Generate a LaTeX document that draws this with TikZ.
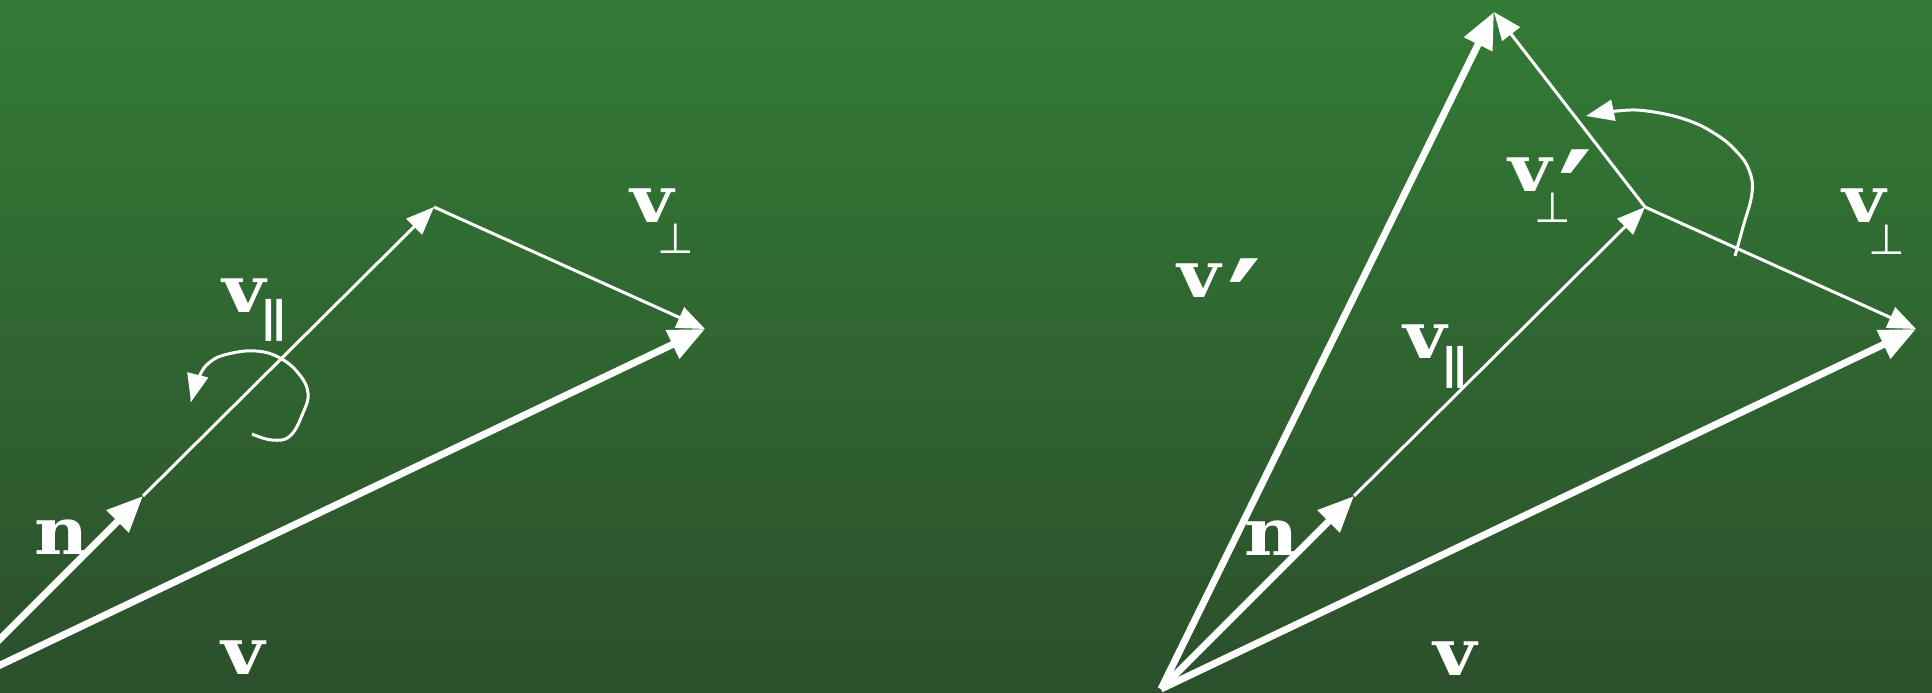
\documentclass[tikz,border=0pt]{standalone}
\usepackage{fontspec}
\usetikzlibrary{arrows.meta}
\newfontfamily\labfont[FakeStretch=1.15]{DejaVu Serif}
\newfontfamily\symfont{DejaVu Sans}
\definecolor{bgtop}{RGB}{51,123,53}
\definecolor{bgbot}{RGB}{44,79,44}
\tikzset{
  thickvec/.style={white, line width=7pt, -{Triangle[length=36pt,width=30pt]}},
  thinvec/.style={white, line width=3pt, -{Triangle[length=28pt,width=22pt]}},
  rotarc/.style={white, line width=3pt, -{Triangle[length=28pt,width=21pt]}},
  lab/.style={text=white, inner sep=0pt, font=\labfont\bfseries\fontsize{65}{65}\selectfont},
  sublab/.style={text=white, inner sep=0pt, font=\symfont\fontsize{42}{42}\selectfont},
  primelab/.style={text=white, inner sep=0pt, anchor=north, font=\symfont\bfseries\fontsize{130}{130}\selectfont},
}
\begin{document}
\begin{tikzpicture}[x=1pt,y=-1pt]
\useasboundingbox (0,0) rectangle (1932,693);
\shade[top color=bgtop, bottom color=bgbot] (0,0) rectangle (1932,693);
\clip (0,0) rectangle (1932,693);

% ---------- left figure ----------
\coordinate (OL) at (-50,689);
\coordinate (NL) at (143,496);
\coordinate (PL) at (434,207);
\coordinate (VL) at (705,329);
\draw[thickvec] (OL) -- (VL);
\draw[thickvec] (OL) -- (NL);
\draw[thinvec] (NL) -- (PL);
\draw[thinvec] (PL) -- (VL);
\draw[rotarc] plot[smooth, tension=0.7] coordinates {(252,434) (272,440) (290,436) (303,413) (308,393) (299,374) (280,358) (256,351) (228,354) (210,362) (199,377) (191,402)};

\node[lab] (nL) at (62,537) {n};
\node[lab] (vL) at (243,658) {v};
\node[lab] (vparL) at (244,296) {v};
\node[sublab] (vparLs) at (274,320) {\scalebox{1.6}[1]{‖}};
\node[lab] (vperpL) at (652,206) {v};
\node[sublab] (vperpLs) at (676,239) {⊥};

% ---------- right figure ----------
\coordinate (OR) at (1161,689);
\coordinate (NR) at (1354,496);
\coordinate (PR) at (1645,207);
\coordinate (VR) at (1916,329);
\coordinate (WR) at (1494,12);
\draw[thickvec] (OR) -- (VR);
\draw[thickvec] (OR) -- (WR);
\draw[thickvec] (OR) -- (NR);
\draw[thinvec] (NR) -- (PR);
\draw[thinvec] (PR) -- (VR);
\draw[thinvec] (PR) -- (WR);
\draw[rotarc] plot[smooth, tension=0.7] coordinates {(1735,256) (1743,227) (1752,193) (1749,170) (1737,152) (1717,135) (1687,120) (1647,111) (1617,111) (1586,116)};

\node[lab] (nR) at (1272,538) {n};
\node[lab] (vR) at (1455,659) {v};
\node[lab] (vparR) at (1425,342) {v};
\node[sublab] (vparRs) at (1455,367) {\scalebox{1.6}[1]{‖}};
\node[lab] (vperpR) at (1864,206) {v};
\node[sublab] (vperpRs) at (1887,240) {⊥};
\node[lab] (vprime) at (1199,281) {v};
\node[primelab] (vprimep) at (1245,259) {′};
\node[lab] (vperpp) at (1530,175) {v};
\node[primelab] (vperppp) at (1576,150) {′};
\node[sublab] (vperpps) at (1553,208) {⊥};
\end{tikzpicture}
\end{document}
